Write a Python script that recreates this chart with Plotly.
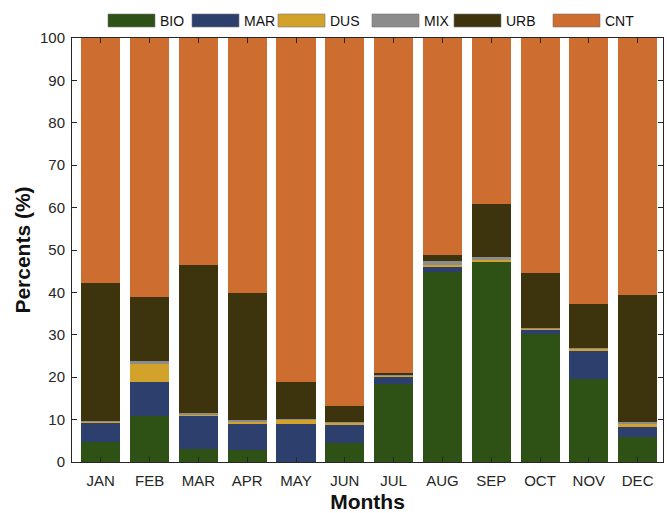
import plotly.graph_objects as go

# Monthly share (%) of each aerosol type
months = ["JAN", "FEB", "MAR", "APR", "MAY", "JUN", "JUL", "AUG", "SEP", "OCT", "NOV", "DEC"]
bio = [4.8, 10.9, 3.1, 2.8, 0.0, 4.4, 18.5, 44.9, 47.2, 30.2, 19.6, 6.0]
mar = [4.4, 8.0, 7.8, 6.3, 9.0, 4.3, 1.7, 1.2, 0.1, 1.0, 6.8, 2.3]
dus = [0.3, 4.1, 0.3, 0.4, 1.0, 0.6, 0.2, 0.4, 0.4, 0.4, 0.4, 0.7]
mix = [0.1, 0.8, 0.4, 0.5, 0.2, 0.2, 0.1, 0.8, 0.6, 0.1, 0.1, 0.5]
urb = [32.6, 15.1, 34.8, 29.9, 8.7, 3.7, 0.6, 1.5, 12.5, 12.8, 10.4, 29.8]
cnt = [round(100 - sum(v), 1) for v in zip(bio, mar, dus, mix, urb)]

series = [
    ("BIO", bio, "#2e5216"),
    ("MAR", mar, "#2d3f6d"),
    ("DUS", dus, "#d3a22b"),
    ("MIX", mix, "#8c8c8c"),
    ("URB", urb, "#3d340e"),
    ("CNT", cnt, "#cd6d2f"),
]

W, H = 667, 513
ML, MR, MT, MB = 72, 4, 38, 51
PW, PH = W - ML - MR, H - MT - MB

fig = go.Figure()
for name, vals, color in series:
    fig.add_trace(go.Bar(
        x=months, y=vals, name=name, marker_color=color,
        marker_line_width=0, showlegend=False,
    ))

axis_col = "#262626"
font_fam = "Liberation Sans, Arial, sans-serif"

# Legend row above the axes: wide colour swatch followed by the label
legend_left = [108, 192, 278, 372, 454, 553]
sw_w, sw_top, sw_bot = 47, 14, 27
shapes, annos = [], []
for (name, _, color), left in zip(series, legend_left):
    x0 = (left - ML) / PW
    x1 = (left + sw_w - ML) / PW
    y0 = (H - MB - sw_bot) / PH
    y1 = (H - MB - sw_top) / PH
    shapes.append(dict(type="rect", xref="paper", yref="paper", x0=x0, x1=x1,
                       y0=y0, y1=y1, fillcolor=color,
                       line=dict(color="#777777", width=0.6)))
    annos.append(dict(xref="paper", yref="paper", x=(left + sw_w + 3 - ML) / PW,
                      y=(y0 + y1) / 2, text=name, showarrow=False,
                      xanchor="left", yanchor="middle",
                      font=dict(size=14, color="#111111", family=font_fam)))

fig.update_layout(
    width=W, height=H,
    margin=dict(l=ML, r=MR, t=MT, b=MB, pad=0),
    barmode="stack", bargap=0.2,
    plot_bgcolor="white", paper_bgcolor="white",
    font=dict(family=font_fam, color=axis_col),
    shapes=shapes, annotations=annos,
)
fig.update_xaxes(
    range=[-0.59, 11.52], showline=True, linecolor=axis_col, linewidth=1,
    mirror="ticks", ticks="inside", ticklen=5, tickcolor=axis_col,
    tickfont=dict(size=15, color=axis_col), showgrid=False, ticklabelstandoff=5,
    automargin=False,
    title=dict(text="<b>Months</b>", font=dict(size=21, color="#111111"), standoff=10),
)
fig.update_yaxes(
    range=[0, 100], dtick=10, showline=True, linecolor=axis_col, linewidth=1,
    mirror="ticks", ticks="inside", ticklen=5, tickcolor=axis_col,
    tickfont=dict(size=15, color=axis_col), showgrid=False, zeroline=False,
    ticklabelstandoff=3, automargin=False,
    title=dict(text="<b>Percents (%)</b>", font=dict(size=21, color="#111111"), standoff=3),
)

fig.write_html("out.html")
